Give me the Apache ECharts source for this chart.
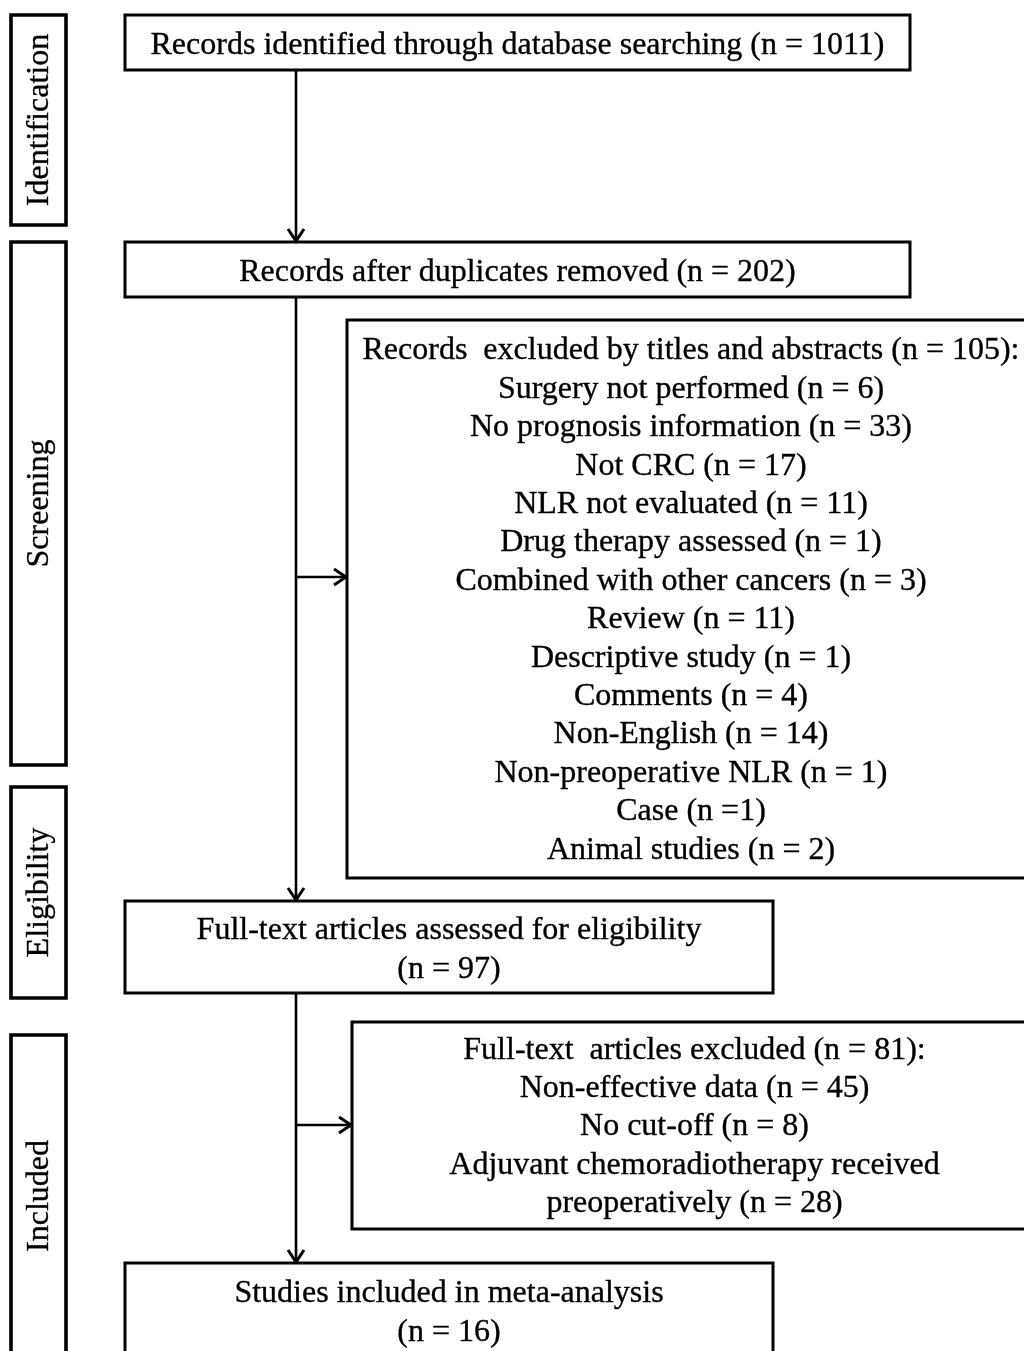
<!DOCTYPE html>
<html><head><meta charset="utf-8">
<script src="https://cdn.jsdelivr.net/npm/echarts@6/dist/echarts.min.js"></script>
<style>html,body{margin:0;padding:0;background:#fff}#c{width:1024px;height:1351px}</style>
</head><body><div id="c"></div>
<script>
// ---- content ----
const phaseLabels = ['Identification', 'Screening', 'Eligibility', 'Included'];
const stepTexts = [
  'Records identified through database searching (n = 1011)',
  'Records after duplicates removed (n = 202)',
  'Full-text articles assessed for eligibility\n(n = 97)',
  'Studies included in meta-analysis\n(n = 16)'
];
const exclusion1Lines = [
  'Records  excluded by titles and abstracts (n = 105):',
  'Surgery not performed (n = 6)',
  'No prognosis information (n = 33)',
  'Not CRC (n = 17)',
  'NLR not evaluated (n = 11)',
  'Drug therapy assessed (n = 1)',
  'Combined with other cancers (n = 3)',
  'Review (n = 11)',
  'Descriptive study (n = 1)',
  'Comments (n = 4)',
  'Non-English (n = 14)',
  'Non-preoperative NLR (n = 1)',
  'Case (n =1)',
  'Animal studies (n = 2)'
];
const exclusion2Lines = [
  'Full-text  articles excluded (n = 81):',
  'Non-effective data (n = 45)',
  'No cut-off (n = 8)',
  'Adjuvant chemoradiotherapy received',
  'preoperatively (n = 28)'
];

// ---- layout (diagram units = pixels of the 1024x1351 canvas) ----
const phaseBoxes = [[11, 15, 66, 225], [11, 242, 66, 765], [11, 787, 66, 998], [11, 1035, 66, 1357]];
const stepBoxes = [[125, 15, 910, 70], [125, 242, 910, 297], [125, 901, 773, 993], [125, 1263, 773, 1357]];
const exclBoxes = [[347, 320, 1035, 878], [352, 1022, 1037, 1229]];
const arrowSegs = [[296, 70, 296, 241], [296, 297, 296, 900], [296, 993, 296, 1262], [296, 577, 346, 577], [296, 1125, 351, 1125]];

const FONT_FAMILY = '"Liberation Serif", "Times New Roman", serif';
const FONT_SIZE = 32;
const LINE_H = 38.4;

const boxData = [];
phaseBoxes.forEach((b, i) => boxData.push({ value: b, kind: 'phase', text: phaseLabels[i] }));
stepBoxes.forEach((b, i) => boxData.push({ value: b, kind: 'step', text: stepTexts[i] }));
boxData.push({ value: exclBoxes[0], kind: 'excl', text: exclusion1Lines.join('\n') });
boxData.push({ value: exclBoxes[1], kind: 'excl', text: exclusion2Lines.join('\n') });

function renderBox(params, api) {
  const p0 = api.coord([api.value(0), api.value(1)]);
  const p1 = api.coord([api.value(2), api.value(3)]);
  const item = boxData[params.dataIndex];
  const x = Math.min(p0[0], p1[0]), y = Math.min(p0[1], p1[1]);
  const w = Math.abs(p1[0] - p0[0]), h = Math.abs(p1[1] - p0[1]);
  const cx = x + w / 2, cy = y + h / 2;
  const isPhase = item.kind === 'phase';
  const dy = item.kind === 'step' ? 3 : 1.5;
  return {
    type: 'group',
    children: [
      { type: 'rect', shape: { x, y, width: w, height: h },
        style: { fill: '#fff', stroke: '#000', lineWidth: isPhase ? 3.6 : 3 } },
      { type: 'text', x: isPhase ? cx + 1 : cx, y: isPhase ? cy : cy + dy, rotation: isPhase ? Math.PI / 2 : 0,
        style: { text: item.text, fill: '#000', fontFamily: FONT_FAMILY, fontSize: FONT_SIZE,
          lineHeight: LINE_H, align: 'center', verticalAlign: 'middle',
          textAlign: 'center', textVerticalAlign: 'middle',
          stroke: '#000', lineWidth: 0.35 } }
    ]
  };
}

function renderArrow(params, api) {
  const a = api.coord([api.value(0), api.value(1)]);
  const b = api.coord([api.value(2), api.value(3)]);
  const dx = b[0] - a[0], dy = b[1] - a[1];
  const len = Math.sqrt(dx * dx + dy * dy);
  const ux = dx / len, uy = dy / len;
  const hl = 12, hw = 8;
  const base = [b[0] - ux * hl, b[1] - uy * hl];
  const l = [base[0] - uy * hw, base[1] + ux * hw];
  const r = [base[0] + uy * hw, base[1] - ux * hw];
  return {
    type: 'group',
    children: [
      { type: 'line', shape: { x1: a[0], y1: a[1], x2: b[0], y2: b[1] },
        style: { stroke: '#000', lineWidth: 2.6 } },
      { type: 'polyline', shape: { points: [l, b, r] },
        style: { stroke: '#000', fill: null, lineWidth: 3 } }
    ]
  };
}

const chart = echarts.init(document.getElementById('c'), null, { renderer: 'canvas' });
chart.setOption({
  backgroundColor: '#fff',
  animation: false,
  grid: { left: 0, right: 0, top: 0, bottom: 0 },
  xAxis: { type: 'value', min: 0, max: 1024, show: false },
  yAxis: { type: 'value', min: 0, max: 1351, inverse: true, show: false },
  series: [
    { type: 'custom', clip: false, renderItem: renderArrow,
      encode: { x: [0, 2], y: [1, 3] }, data: arrowSegs, z: 1 },
    { type: 'custom', clip: false, renderItem: renderBox,
      encode: { x: [0, 2], y: [1, 3] }, data: boxData.map(d => d.value), z: 2 }
  ]
});
</script>
</body></html>
